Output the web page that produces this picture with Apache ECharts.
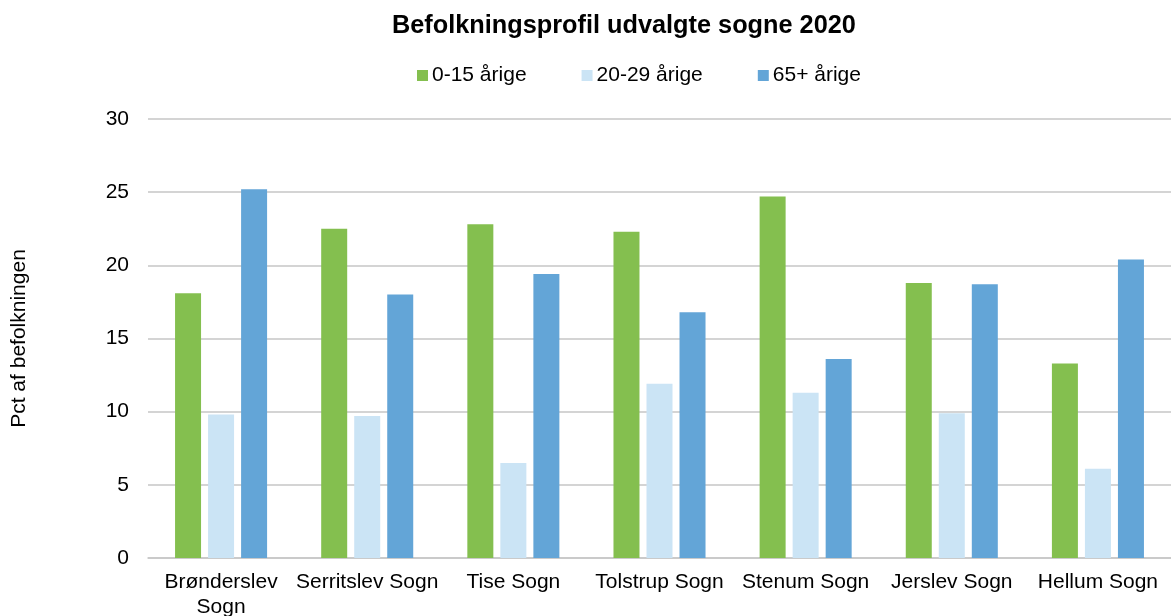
<!DOCTYPE html>
<html>
<head>
<meta charset="utf-8">
<script src="https://cdn.jsdelivr.net/npm/echarts@6/dist/echarts.min.js"></script>
<style>
  html, body { margin: 0; padding: 0; background: #fff; }
  #chart { width: 1171px; height: 616px; }
</style>
</head>
<body>
<div id="chart"></div>
<script>
var sogne = ['Brønderslev Sogn', 'Serritslev Sogn', 'Tise Sogn', 'Tolstrup Sogn', 'Stenum Sogn', 'Jerslev Sogn', 'Hellum Sogn'];
var boern = [18.1, 22.5, 22.8, 22.3, 24.7, 18.8, 13.3];     // 0-15 årige
var unge = [9.8, 9.7, 6.5, 11.9, 11.3, 9.9, 6.1];           // 20-29 årige
var aeldre = [25.2, 18.0, 19.4, 16.8, 13.6, 18.7, 20.4];    // 65+ årige
var yTicks = [0, 5, 10, 15, 20, 25, 30];

var font = 'Liberation Sans, Arial, sans-serif';
var chart = echarts.init(document.getElementById('chart'));

var option = {
  animation: false,
  title: {
    text: 'Befolkningsprofil udvalgte sogne 2020',
    left: 387,
    top: 9,
    textStyle: { fontFamily: font, fontSize: 25.3, fontWeight: 'bold', color: '#000' }
  },
  legend: {
    left: 412,
    top: 60,
    itemWidth: 11,
    itemHeight: 11,
    itemGap: 55,
    icon: 'rect',
    textStyle: { fontFamily: font, fontSize: 21, color: '#000', padding: [0, 0, 0, -1] },
    data: ['0-15 årige', '20-29 årige', '65+ årige']
  },
  grid: { left: 148, right: 0, top: 119, bottom: 58, outerBoundsMode: 'none' },
  xAxis: {
    type: 'category',
    data: sogne,
    axisTick: { show: false },
    axisLine: { lineStyle: { color: '#c6c6c6', width: 1.5 } },
    axisLabel: {
      fontFamily: font, fontSize: 21, color: '#000', margin: 12, interval: 0, lineHeight: 25,
      formatter: function (v) { return v.length > 15 ? v.replace(' ', '\n') : v; }
    }
  },
  yAxis: {
    type: 'value',
    min: yTicks[0],
    max: yTicks[yTicks.length - 1],
    interval: 5,
    name: 'Pct af befolkningen',
    nameLocation: 'middle',
    nameGap: 118,
    nameTextStyle: { fontFamily: font, fontSize: 21, color: '#000' },
    axisLabel: { fontFamily: font, fontSize: 21, color: '#000', margin: 19 },
    splitLine: { lineStyle: { color: '#c6c6c6', width: 1.5 } }
  },
  series: [
    { name: '0-15 årige', type: 'bar', data: boern, barWidth: 26, barGap: '27%', itemStyle: { color: '#84bf4f' } },
    { name: '20-29 årige', type: 'bar', data: unge, barWidth: 26, barGap: '27%', itemStyle: { color: '#cbe4f5' } },
    { name: '65+ årige', type: 'bar', data: aeldre, barWidth: 26, barGap: '27%', itemStyle: { color: '#63a5d7' } }
  ]
};

chart.setOption(option);
</script>
</body>
</html>
